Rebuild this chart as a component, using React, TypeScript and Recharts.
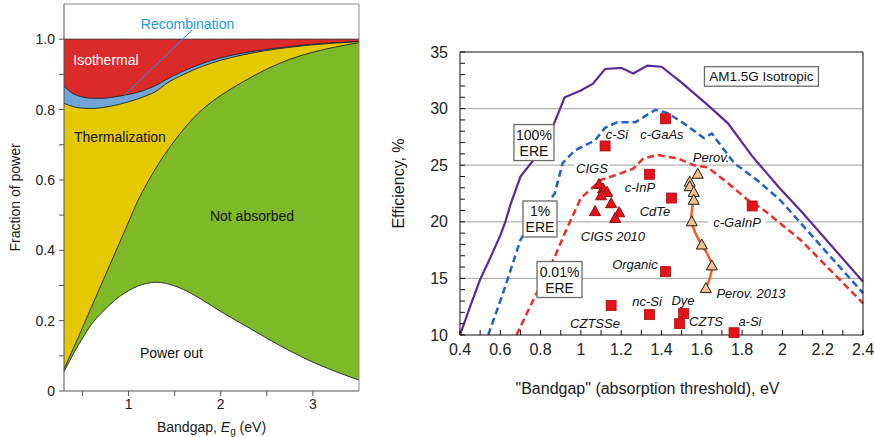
import {
	Area,
	CartesianGrid,
	ComposedChart,
	Line,
	ReferenceDot,
	ReferenceLine,
	Scatter,
	XAxis,
	YAxis
} from 'recharts'

const FONT = '"Liberation Sans", Arial, Helvetica, sans-serif'

// ---- Left panel: where the incident power goes, per bandgap (eV) ----
const EG = [0.3, 0.4, 0.5, 0.6, 0.7, 0.8, 0.9, 1.0, 1.1, 1.2, 1.3, 1.4, 1.6, 1.8, 2.0, 2.25, 2.5, 2.75, 3.0, 3.25, 3.5]
// cumulative upper edge of each band, bottom to top
const POWER_OUT = [0.055, 0.105, 0.15, 0.19, 0.22, 0.246, 0.268, 0.285, 0.298, 0.306, 0.309, 0.306, 0.288, 0.259, 0.226, 0.188, 0.15, 0.114, 0.082, 0.055, 0.031]
const NOT_ABSORBED = [0.063, 0.12, 0.18, 0.24, 0.3, 0.36, 0.42, 0.48, 0.54, 0.59, 0.635, 0.675, 0.745, 0.8, 0.84, 0.88, 0.915, 0.943, 0.963, 0.978, 0.99]
const THERMALIZATION = [0.818, 0.808, 0.804, 0.803, 0.805, 0.809, 0.815, 0.822, 0.83, 0.84, 0.852, 0.872, 0.9, 0.923, 0.94, 0.956, 0.968, 0.977, 0.984, 0.989, 0.993]
const RECOMBINATION = [0.866, 0.845, 0.836, 0.832, 0.832, 0.834, 0.838, 0.843, 0.849, 0.858, 0.869, 0.884, 0.91, 0.931, 0.947, 0.961, 0.971, 0.979, 0.986, 0.99, 0.994]
const ISOTHERMAL = [1, 1, 1, 1, 1, 1, 1, 1, 1, 1, 1, 1, 1, 1, 1, 1, 1, 1, 1, 1, 1]

const EG_TICKS = [0.5, 1, 1.5, 2, 2.5, 3]
const FRACTION_TICKS = [0, 0.1, 0.2, 0.3, 0.4, 0.5, 0.6, 0.7, 0.8, 0.9, 1.0]

// ---- Right panel: detailed-balance limits vs. record cells ----
const ERE_100_EG = [0.4, 0.45, 0.5, 0.55, 0.6, 0.625, 0.65, 0.7, 0.78, 0.86, 0.92, 1.0, 1.06, 1.12, 1.2, 1.26, 1.33, 1.4, 1.5, 1.63, 1.73, 1.85, 1.98, 2.1, 2.4]
const ERE_100_EFF = [10, 12.5, 14.9, 16.8, 18.8, 20.0, 21.5, 24.0, 25.8, 28.4, 31.0, 31.6, 32.2, 33.5, 33.6, 33.1, 33.8, 33.7, 32.3, 30.3, 28.7, 25.8, 23.1, 20.8, 14.7]
const ERE_1_EG = [0.54, 0.6, 0.635, 0.7, 0.78, 0.83, 0.87, 0.91, 0.97, 1.07, 1.12, 1.18, 1.27, 1.37, 1.43, 1.51, 1.61, 1.65, 1.76, 1.88, 1.99, 2.1, 2.4]
const ERE_1_EFF = [10, 13.0, 14.85, 18.4, 20.8, 21.5, 22.5, 25.2, 26.3, 27.2, 28.3, 28.8, 28.8, 29.9, 29.6, 28.7, 27.4, 27.8, 25.2, 23.6, 21.9, 19.7, 13.7]
const ERE_001_EG = [0.68, 0.78, 0.87, 0.93, 1.0, 1.1, 1.2, 1.26, 1.31, 1.38, 1.48, 1.56, 1.63, 1.73, 1.85, 1.89, 2.09, 2.4]
const ERE_001_EFF = [10, 13.7, 16.9, 19.4, 22.1, 23.7, 24.3, 24.7, 25.6, 25.9, 25.6, 25.0, 24.8, 23.4, 21.6, 21.3, 18.4, 12.8]

// record single-junction cells: c-Si, c-GaAs, c-InP, CdTe, c-GaInP, Organic, CZTSSe, nc-Si, Dye, CZTS, a-Si
const CELL_EG = [1.12, 1.42, 1.34, 1.45, 1.85, 1.42, 1.15, 1.34, 1.51, 1.49, 1.76]
const CELL_EFF = [26.7, 29.1, 24.2, 22.1, 21.4, 15.6, 12.6, 11.8, 11.9, 11.0, 10.2]
const CIGS_EG = [1.09, 1.11, 1.13, 1.10, 1.15, 1.07, 1.19, 1.17]
const CIGS_EFF = [23.3, 22.9, 22.6, 22.3, 21.6, 20.9, 20.8, 20.3]
const PEROV_EG = [1.58, 1.54, 1.54, 1.56, 1.56, 1.55, 1.6, 1.65, 1.62]
const PEROV_EFF = [24.2, 23.5, 23.1, 22.6, 21.9, 20.0, 17.95, 16.1, 14.1]
const PEROV_TREND_EG = [1.56, 1.55, 1.6, 1.65, 1.62]
const PEROV_TREND_EFF = [21.9, 20.0, 17.95, 16.1, 14.1]

const CELL_LABELS = [
	{ text: 'c-Si', eg: 1.179, eff: 27.67 },
	{ text: 'c-GaAs', eg: 1.402, eff: 27.67 },
	{ text: 'CIGS', eg: 1.055, eff: 24.75, backed: true },
	{ text: 'c-InP', eg: 1.293, eff: 23.07 },
	{ text: 'CdTe', eg: 1.368, eff: 20.87 },
	{ text: 'Perov.', eg: 1.646, eff: 25.64 },
	{ text: 'c-GaInP', eg: 1.775, eff: 19.98, backed: true },
	{ text: 'CIGS 2010', eg: 1.159, eff: 18.66 },
	{ text: 'Organic', eg: 1.268, eff: 16.27 },
	{ text: 'Perov. 2013', eg: 1.844, eff: 13.71 },
	{ text: 'CZTSSe', eg: 1.07, eff: 11.06 },
	{ text: 'nc-Si', eg: 1.328, eff: 13.0 },
	{ text: 'Dye', eg: 1.507, eff: 13.09 },
	{ text: 'CZTS', eg: 1.621, eff: 11.15 },
	{ text: 'a-Si', eg: 1.839, eff: 11.15 }
]

const EG_AXIS_TICKS = [0.4, 0.5, 0.6, 0.7, 0.8, 0.9, 1, 1.1, 1.2, 1.3, 1.4, 1.5, 1.6, 1.7, 1.8, 1.9, 2, 2.1, 2.2, 2.3, 2.4]
const EFF_TICKS = [10, 11, 12, 13, 14, 15, 16, 17, 18, 19, 20, 21, 22, 23, 24, 25, 26, 27, 28, 29, 30, 31, 32, 33, 34, 35]
const EFF_GRID = [15, 20, 25, 30]

const pairs = (xs: number[], ys: number[]) => xs.map((x, i) => ({ x, y: ys[i] }))

const powerRows = EG.map((eg, i) => ({
	eg,
	powerOut: POWER_OUT[i],
	notAbsorbed: NOT_ABSORBED[i],
	thermalization: THERMALIZATION[i],
	recombination: RECOMBINATION[i],
	isothermal: ISOTHERMAL[i]
}))

type Box = { x: number; y: number; width: number; height: number }

// rotated axis title; `inset` is measured from the left edge of the axis box
function SideTitle({ viewBox, text, inset, lift = 0, size }: { viewBox?: Box; text: string; inset: number; lift?: number; size: number }) {
	const px = (viewBox ? viewBox.x : 0) + inset
	const py = viewBox ? viewBox.y + viewBox.height / 2 + lift : 200
	return (
		<text
			x={px}
			y={py}
			transform={`rotate(-90 ${px} ${py})`}
			textAnchor="middle"
			dominantBaseline="central"
			fontSize={size}
			fill="#1a1a1a"
			fontFamily={FONT}
		>
			{text}
		</text>
	)
}

function BottomTitle({ viewBox, text, shift = 0, drop, size }: { viewBox?: Box; text: string; shift?: number; drop: number; size: number }) {
	const px = viewBox ? viewBox.x + viewBox.width / 2 + shift : 600
	const py = viewBox ? viewBox.y + drop : 390
	return (
		<text x={px} y={py} textAnchor="middle" dominantBaseline="central" fontSize={size} fill="#1a1a1a" fontFamily={FONT}>
			{text}
		</text>
	)
}

function BandgapTitle({ viewBox }: { viewBox?: Box }) {
	const px = viewBox ? viewBox.x + viewBox.width / 2 : 211
	const py = viewBox ? viewBox.y + 36 : 427
	return (
		<text x={px} y={py} textAnchor="middle" dominantBaseline="central" fontSize={14} fill="#1a1a1a" fontFamily={FONT}>
			<tspan>Bandgap, </tspan>
			<tspan fontStyle="italic">E</tspan>
			<tspan fontSize={10} dy={4}>g</tspan>
			<tspan dy={-4}> (eV)</tspan>
		</text>
	)
}

type NoteProps = { cx?: number; cy?: number; text: string; size?: number; italic?: boolean; tone?: string; backed?: boolean }

function Note({ cx = 0, cy = 0, text, size = 13, italic = true, tone = '#111', backed = false }: NoteProps) {
	const w = text.length * size * 0.56
	return (
		<g>
			{backed && <rect x={cx - w / 2 - 3} y={cy - size * 0.6} width={w + 6} height={size * 1.2} fill="#fff" />}
			<text
				x={cx}
				y={cy}
				textAnchor="middle"
				dominantBaseline="central"
				fontSize={size}
				fontStyle={italic ? 'italic' : 'normal'}
				fill={tone}
				fontFamily={FONT}
			>
				{text}
			</text>
		</g>
	)
}

function FramedNote({ cx = 0, cy = 0, lines, boxWidth, size = 14 }: { cx?: number; cy?: number; lines: string[]; boxWidth: number; size?: number }) {
	const lh = size + 2
	const h = lines.length * lh + 4
	return (
		<g>
			<rect x={cx - boxWidth / 2} y={cy - h / 2} width={boxWidth} height={h} fill="#fff" stroke="#6b6b6b" strokeWidth={1.3} />
			{lines.map((line, i) => (
				<text
					key={line}
					x={cx}
					y={cy - h / 2 + 2 + lh * (i + 0.5)}
					textAnchor="middle"
					dominantBaseline="central"
					fontSize={size}
					fill="#111"
					fontFamily={FONT}
				>
					{line}
				</text>
			))}
		</g>
	)
}

function SquareMark({ cx = 0, cy = 0, fill, stroke }: { cx?: number; cy?: number; fill?: string; stroke?: string }) {
	return <rect x={cx - 5} y={cy - 5} width={10} height={10} fill={fill} stroke={stroke} strokeWidth={0.8} />
}

function TriangleMark({ cx = 0, cy = 0, fill, stroke }: { cx?: number; cy?: number; fill?: string; stroke?: string }) {
	const w = 11
	const h = 10
	return (
		<polygon
			points={`${cx},${cy - h * 0.6} ${cx - w / 2},${cy + h * 0.4} ${cx + w / 2},${cy + h * 0.4}`}
			fill={fill}
			stroke={stroke}
			strokeWidth={1}
			strokeLinejoin="round"
		/>
	)
}

const fractionLabel = (v: number, i: number) => (i % 2 ? '' : v === 0 ? '0' : v.toFixed(1))

function PowerFractionChart() {
	const areaProps = { type: 'monotone' as const, stroke: '#222', strokeWidth: 0.9, fillOpacity: 1, isAnimationActive: false, dot: false, activeDot: false }
	return (
		<ComposedChart width={380} height={437} data={powerRows} margin={{ top: 4, right: 21, bottom: 0, left: 0 }}>
			<XAxis
				dataKey="eg"
				type="number"
				domain={[0.3, 3.5]}
				ticks={EG_TICKS}
				interval={0}
				tickFormatter={(v: number) => (Number.isInteger(v) ? String(v) : '')}
				tickSize={5}
				tickMargin={3}
				height={46}
				stroke="#555"
				tick={{ fontSize: 14, fill: '#222' }}
				label={<BandgapTitle />}
			/>
			<YAxis
				type="number"
				domain={[0, 1.1]}
				ticks={FRACTION_TICKS}
				interval={0}
				tickFormatter={fractionLabel}
				tickSize={5}
				tickMargin={4}
				width={64}
				stroke="#555"
				tick={{ fontSize: 14, fill: '#222' }}
				label={<SideTitle text="Fraction of power" inset={15} size={14} />}
			/>
			<Area dataKey="isothermal" fill="#db2a2a" {...areaProps} />
			<Area dataKey="recombination" fill="#6fa6d6" {...areaProps} />
			<Area dataKey="thermalization" fill="#e4c800" {...areaProps} />
			<Area dataKey="notAbsorbed" fill="#7eb928" {...areaProps} />
			<Area dataKey="powerOut" fill="#ffffff" {...areaProps} />
			<ReferenceLine y={1.1} stroke="#8a8a8a" strokeWidth={1} />
			<ReferenceLine x={3.5} stroke="#8a8a8a" strokeWidth={1} />
			<ReferenceLine
				segment={[
					{ x: 1.69, y: 1.026 },
					{ x: 0.93, y: 0.834 }
				]}
				stroke="#1b9ad6"
				strokeWidth={1}
			/>
			<ReferenceDot x={0.755} y={0.941} r={1} shape={<Note text="Isothermal" size={14} italic={false} tone="#ffffff" />} />
			<ReferenceDot x={1.64} y={1.043} r={1} shape={<Note text="Recombination" size={14} italic={false} tone="#1b9ad6" />} />
			<ReferenceDot x={0.907} y={0.722} r={1} shape={<Note text="Thermalization" size={14} italic={false} />} />
			<ReferenceDot x={2.339} y={0.497} r={1} shape={<Note text="Not absorbed" size={14} italic={false} />} />
			<ReferenceDot x={1.466} y={0.108} r={1} shape={<Note text="Power out" size={14} italic={false} />} />
		</ComposedChart>
	)
}

function EfficiencyChart() {
	return (
		<ComposedChart width={494} height={437} margin={{ top: 52, right: 10, bottom: 0, left: 0 }}>
			<CartesianGrid vertical={false} horizontalValues={EFF_GRID} stroke="#b4b4b4" strokeWidth={1.2} />
			<XAxis
				dataKey="x"
				type="number"
				domain={[0.4, 2.4]}
				ticks={EG_AXIS_TICKS}
				interval={0}
				tickFormatter={(v: number, i: number) => (i % 2 ? '' : String(v))}
				tickSize={-5}
				tickMargin={14}
				height={102}
				stroke="#111"
				tick={{ fontSize: 16, fill: '#222' }}
				label={<BottomTitle text={'"Bandgap" (absorption threshold), eV'} shift={-14} drop={53} size={16} />}
			/>
			<YAxis
				dataKey="y"
				type="number"
				domain={[10, 35]}
				ticks={EFF_TICKS}
				interval={0}
				tickFormatter={(v: number) => (v % 5 ? '' : String(v))}
				tickSize={-5}
				tickMargin={17}
				width={80}
				stroke="#111"
				tick={{ fontSize: 16, fill: '#222' }}
				label={<SideTitle text="Efficiency, %" inset={18} lift={-10} size={16} />}
			/>
			<YAxis
				yAxisId="right"
				orientation="right"
				type="number"
				domain={[10, 35]}
				ticks={EFF_TICKS}
				interval={0}
				tick={false}
				tickSize={-5}
				width={1}
				stroke="#111"
			/>
			<ReferenceLine y={35} stroke="#111" strokeWidth={1.2} />
			<Line data={pairs(ERE_100_EG, ERE_100_EFF)} dataKey="y" type="linear" stroke="#5b2a96" strokeWidth={2.2} dot={false} isAnimationActive={false} />
			<Line data={pairs(ERE_1_EG, ERE_1_EFF)} dataKey="y" type="linear" stroke="#1f62c4" strokeWidth={2.5} strokeDasharray="7 4" dot={false} isAnimationActive={false} />
			<Line data={pairs(ERE_001_EG, ERE_001_EFF)} dataKey="y" type="linear" stroke="#e8302b" strokeWidth={2.5} strokeDasharray="7 4" dot={false} isAnimationActive={false} />
			<Line data={pairs(PEROV_TREND_EG, PEROV_TREND_EFF)} dataKey="y" type="natural" stroke="#f0631f" strokeWidth={2.5} dot={false} isAnimationActive={false} />
			<Scatter data={pairs(CELL_EG, CELL_EFF)} dataKey="y" fill="#e5121a" stroke="#a30e12" shape={<SquareMark />} isAnimationActive={false} />
			<Scatter data={pairs(CIGS_EG, CIGS_EFF)} dataKey="y" fill="#e5121a" stroke="#8c0b0e" shape={<TriangleMark />} isAnimationActive={false} />
			<Scatter data={pairs(PEROV_EG, PEROV_EFF)} dataKey="y" fill="#f8c08c" stroke="#1a1a1a" shape={<TriangleMark />} isAnimationActive={false} />
			{CELL_LABELS.map((n) => (
				<ReferenceDot key={n.text} x={n.eg} y={n.eff} r={1} shape={<Note text={n.text} backed={n.backed} />} />
			))}
			<ReferenceDot x={0.767} y={27.0} r={1} shape={<FramedNote lines={['100%', 'ERE']} boxWidth={40} />} />
			<ReferenceDot x={0.797} y={20.25} r={1} shape={<FramedNote lines={['1%', 'ERE']} boxWidth={34} />} />
			<ReferenceDot x={0.894} y={14.9} r={1} shape={<FramedNote lines={['0.01%', 'ERE']} boxWidth={45} />} />
			<ReferenceDot x={1.896} y={32.84} r={1} shape={<FramedNote lines={['AM1.5G Isotropic']} boxWidth={114} size={13.5} />} />
		</ComposedChart>
	)
}

export default function App() {
	return (
		<div style={{ position: 'fixed', left: 0, top: 0, width: 874, height: 437, background: '#fff', fontFamily: FONT }}>
			<div style={{ position: 'absolute', left: 0, top: 0 }}>
				<PowerFractionChart />
			</div>
			<div style={{ position: 'absolute', left: 380, top: 0 }}>
				<EfficiencyChart />
			</div>
		</div>
	)
}
